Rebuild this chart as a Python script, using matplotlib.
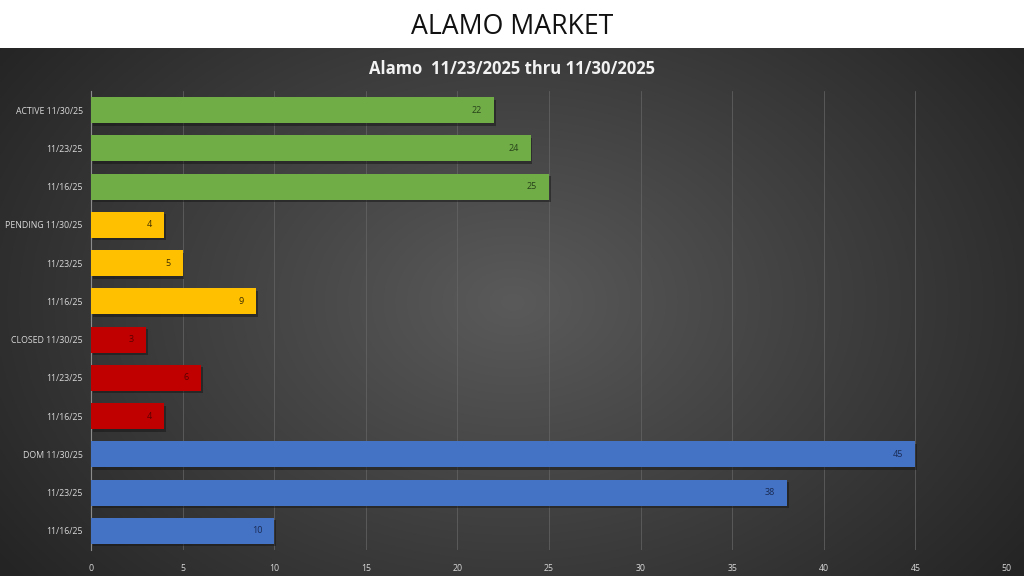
import numpy as np
import matplotlib
matplotlib.use("Agg")
import matplotlib.pyplot as plt
import matplotlib.patheffects as pe

categories = ["ACTIVE 11/30/25", "11/23/25", "11/16/25",
              "PENDING 11/30/25", "11/23/25", "11/16/25",
              "CLOSED 11/30/25", "11/23/25", "11/16/25",
              "DOM 11/30/25", "11/23/25", "11/16/25"]
values = [22, 24, 25, 4, 5, 9, 3, 6, 4, 45, 38, 10]
groups = ["active"] * 3 + ["pending"] * 3 + ["closed"] * 3 + ["dom"] * 3
group_colors = {"active": "#70AD47", "pending": "#FFC000", "closed": "#C00000", "dom": "#4472C4"}
label_colors = {"active": "#27401A", "pending": "#3D2E00", "closed": "#5A0000", "dom": "#1A2C55"}
xticks = [0, 5, 10, 15, 20, 25, 30, 35, 40, 45, 50]
title = "ALAMO MARKET"
subtitle = "Alamo  11/23/2025 thru 11/30/2025"

plt.rcParams['font.family'] = ['Open Sans', 'DejaVu Sans']

fig = plt.figure(figsize=(10.24, 5.76), dpi=100)
fig.patch.set_facecolor("white")

# dark radial-gradient background below white band
bg = fig.add_axes([0, 0, 1, 1 - 48 / 576])
bg.set_axis_off()
ny, nx = 300, 540
yy, xx = np.mgrid[0:ny, 0:nx]
cx, cy = nx * 0.5, ny * 0.48
r = np.sqrt(((xx - cx) / (nx * 0.62)) ** 2 + ((yy - cy) / (ny * 0.85)) ** 2)
r = np.clip(r, 0, 1)
inner = np.array([0x5A, 0x5A, 0x5A]) / 255
outer = np.array([0x24, 0x24, 0x24]) / 255
img = inner[None, None, :] * (1 - r[..., None]) + outer[None, None, :] * r[..., None]
bg.imshow(img, aspect="auto", extent=[0, 1, 0, 1], interpolation="bilinear")
bg.set_xlim(0, 1)
bg.set_ylim(0, 1)

fig.text(0.5, 1 - 27 / 576, title, ha="center", va="center", fontsize=19.2, color="#111111")
fig.text(0.5, 1 - 69 / 576, subtitle, ha="center", va="center", fontsize=12,
         color="#F2F2F2", fontweight="bold")

ax = fig.add_axes([91 / 1024, 1 - 550 / 576, (1007 - 91) / 1024, (550 - 91) / 576])
ax.patch.set_alpha(0)
y = np.arange(len(categories))
colors = [group_colors[g] for g in groups]
bars = ax.barh(y, values, height=0.68, color=colors, zorder=3)
for b in bars:
    b.set_path_effects([pe.SimplePatchShadow(offset=(1.2, -1.8), shadow_rgbFace="#151515", alpha=0.5),
                        pe.Normal()])
for yi, v, g in zip(y, values, groups):
    ax.text(v - 0.65, yi, str(v), ha="right", va="center", fontsize=6.5,
            color=label_colors[g], zorder=4)

ax.set_ylim(len(categories) - 0.5, -0.5)
ax.set_xlim(0, 50)
ax.set_xticks(xticks)
ax.set_yticks(y)
ax.set_yticklabels(categories)
ax.tick_params(axis="both", length=0, labelsize=6.3, colors="#D9D9D9")
ax.tick_params(axis="x", pad=10)
ax.tick_params(axis="y", pad=6)
ax.grid(axis="x", color="#666666", linewidth=0.5, zorder=0)
for s in ["top", "right", "bottom"]:
    ax.spines[s].set_visible(False)
ax.spines["left"].set_color("#8C8C8C")
ax.spines["left"].set_linewidth(0.8)

fig.savefig("out.png", dpi=100, facecolor=fig.get_facecolor())
